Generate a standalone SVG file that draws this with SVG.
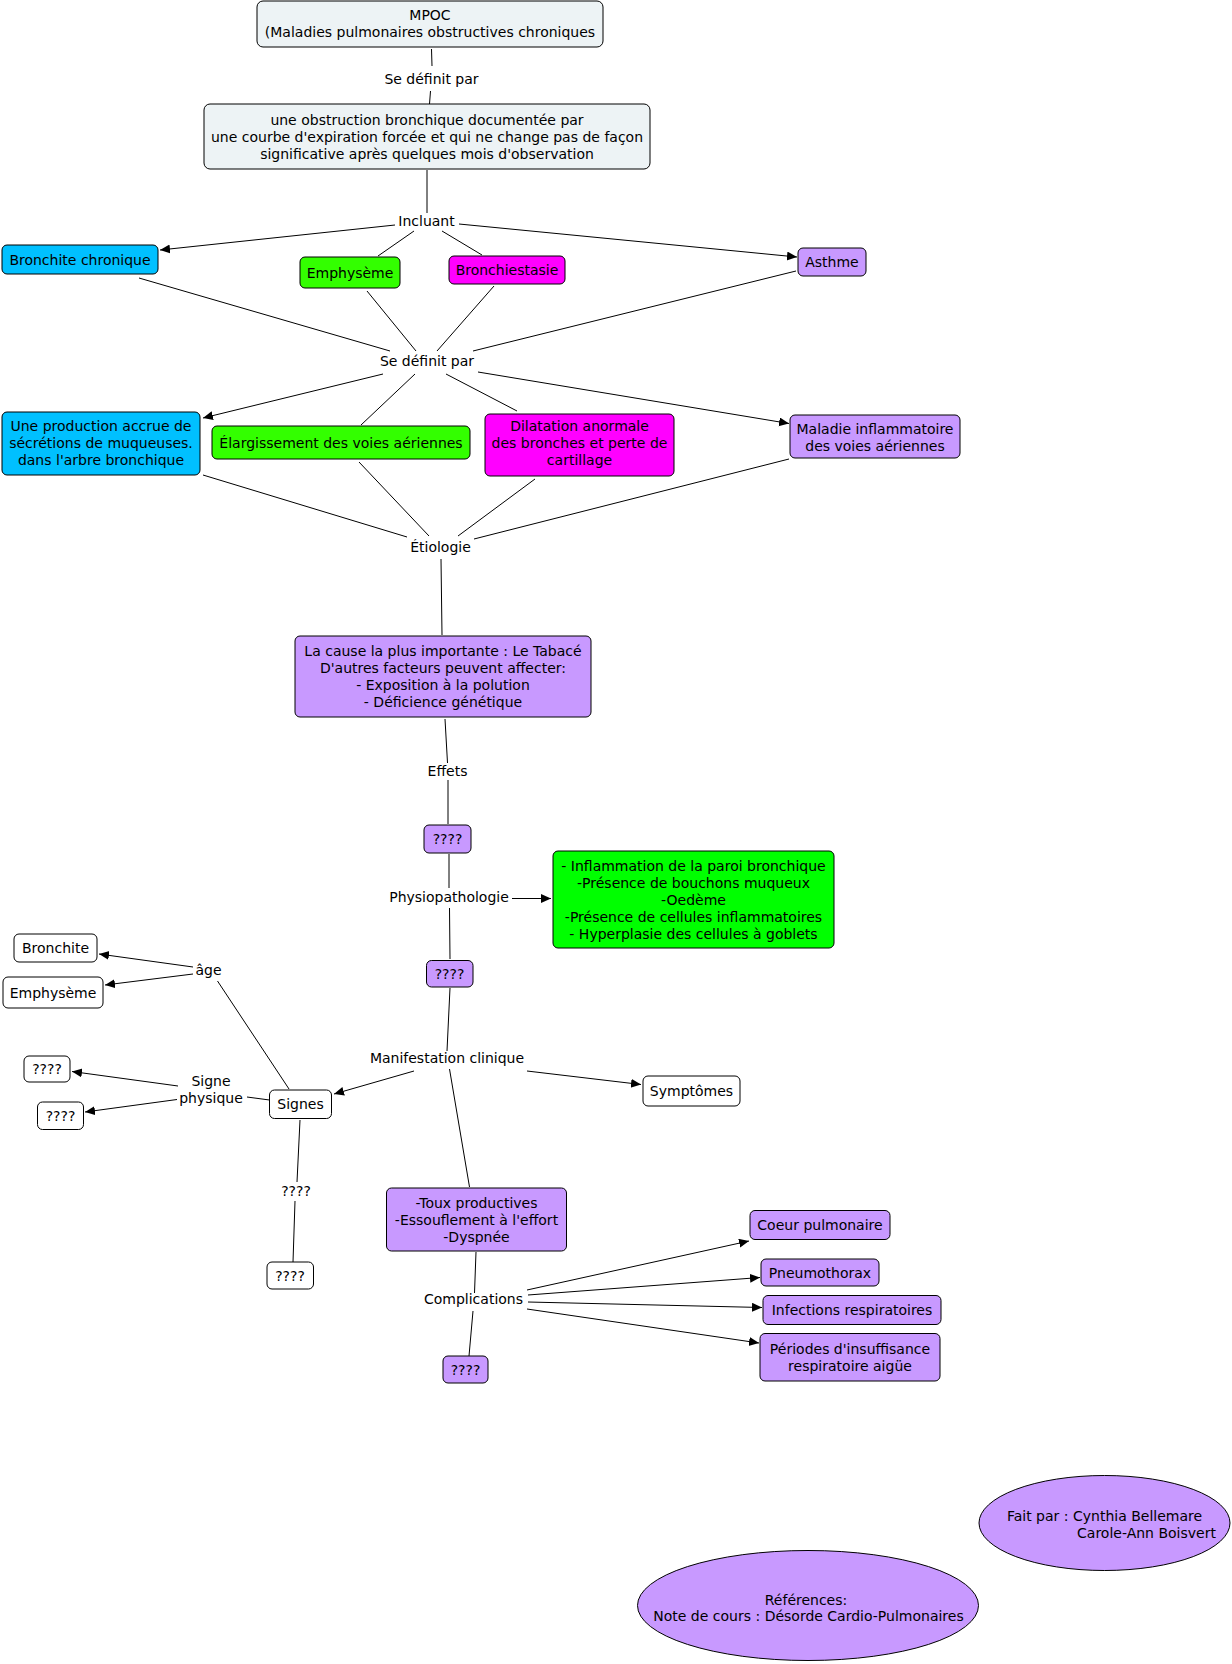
<svg xmlns="http://www.w3.org/2000/svg" width="1232" height="1664" viewBox="0 0 1232 1664">
<defs>
<marker id="arr" markerUnits="userSpaceOnUse" markerWidth="11" markerHeight="10" refX="10" refY="4.5" orient="auto">
<path d="M0,0 L10,4.5 L0,9 z" fill="#000"/>
</marker>
<style>
text{font-family:"DejaVu Sans",Verdana,"Liberation Sans",sans-serif;font-size:14px;fill:#000;text-anchor:middle}
.n{stroke:#000;stroke-width:1}
.grey{fill:#EDF3F5}.blue{fill:#00C0FF}.lg{fill:#33FF00}.g{fill:#00FF00}.mag{fill:#FF00FF}.lav{fill:#C899FF}.wh{fill:#fff}
.c line{stroke:#000;stroke-width:1;fill:none}
.c line.a{marker-end:url(#arr)}
</style>
</defs>
<rect width="1232" height="1664" fill="#fff"/>

<g class="c" id="connectors">
<line x1="431.5" y1="49" x2="432" y2="66"/>
<line x1="430.5" y1="91" x2="429.5" y2="104"/>
<line x1="427" y1="170" x2="427" y2="213"/>
<line class="a" x1="395" y1="225" x2="160" y2="250"/>
<line class="a" x1="459" y1="224" x2="797" y2="257"/>
<line x1="414" y1="231" x2="378" y2="256"/>
<line x1="442" y1="231" x2="482" y2="255"/>
<line x1="139" y1="278" x2="390" y2="351"/>
<line x1="367" y1="291" x2="416" y2="351"/>
<line x1="494" y1="286" x2="437" y2="351"/>
<line x1="796" y1="271" x2="473" y2="351"/>
<line class="a" x1="383" y1="374" x2="203" y2="418"/>
<line x1="415" y1="374" x2="361" y2="425"/>
<line x1="446" y1="374" x2="517" y2="411"/>
<line class="a" x1="478" y1="372" x2="789" y2="423.5"/>
<line x1="203" y1="475" x2="407" y2="537"/>
<line x1="359" y1="462" x2="429" y2="536"/>
<line x1="535" y1="479" x2="458" y2="536"/>
<line x1="789" y1="459" x2="474" y2="539"/>
<line x1="441" y1="559" x2="442" y2="635"/>
<line x1="445" y1="719" x2="447.5" y2="763"/>
<line x1="448" y1="780" x2="448" y2="824"/>
<line x1="449" y1="854" x2="449" y2="888"/>
<line class="a" x1="512" y1="898.5" x2="551" y2="898.5"/>
<line x1="449.5" y1="908" x2="450" y2="959"/>
<line x1="450" y1="988" x2="447" y2="1051"/>
<line class="a" x1="414" y1="1071" x2="334" y2="1094"/>
<line class="a" x1="527" y1="1071" x2="641" y2="1084.5"/>
<line x1="449.5" y1="1069" x2="469.5" y2="1187"/>
<line x1="289" y1="1089" x2="217.5" y2="981"/>
<line class="a" x1="193" y1="967" x2="99" y2="954"/>
<line class="a" x1="193" y1="974" x2="105" y2="985"/>
<line x1="269.5" y1="1100" x2="247" y2="1097"/>
<line class="a" x1="178" y1="1086" x2="72" y2="1071.5"/>
<line class="a" x1="177" y1="1099.5" x2="85" y2="1112"/>
<line x1="300" y1="1120" x2="297" y2="1182"/>
<line x1="295" y1="1201" x2="293" y2="1262"/>
<line x1="476" y1="1252" x2="474.5" y2="1293"/>
<line x1="473" y1="1311" x2="469" y2="1356"/>
<line class="a" x1="527" y1="1290" x2="749" y2="1241"/>
<line class="a" x1="528" y1="1295" x2="760" y2="1277.5"/>
<line class="a" x1="528" y1="1302" x2="762" y2="1307.5"/>
<line class="a" x1="527" y1="1309" x2="759" y2="1343"/>
</g>

<g id="link-labels">
<text x="431.5" y="83.5">Se définit par</text>
<text x="426.5" y="226">Incluant</text>
<text x="427" y="366">Se définit par</text>
<text x="440.5" y="552">Étiologie</text>
<text x="447.5" y="776">Effets</text>
<text x="449" y="902">Physiopathologie</text>
<text x="447" y="1063">Manifestation clinique</text>
<text x="208.5" y="975">âge</text>
<text x="211" y="1086">Signe</text>
<text x="211" y="1103">physique</text>
<text x="296" y="1196">????</text>
<text x="473.5" y="1304">Complications</text>
</g>

<g id="n-mpoc"><rect class="n grey" x="257" y="1" width="346" height="46" rx="6"/>
<text x="430" y="19.5">MPOC</text><text x="430" y="36.5">(Maladies pulmonaires obstructives chroniques</text></g>

<g id="n-obstruction"><rect class="n grey" x="204" y="104" width="446" height="65" rx="6"/>
<text x="427" y="124.5">une obstruction bronchique documentée par</text>
<text x="427" y="141.5">une courbe d'expiration forcée et qui ne change pas de façon</text>
<text x="427" y="158.5">significative après quelques mois d'observation</text></g>

<g id="n-bronchite-chronique"><rect class="n blue" x="2" y="245" width="156" height="29" rx="5"/>
<text x="80" y="264.5">Bronchite chronique</text></g>
<g id="n-emphyseme"><rect class="n lg" x="300" y="257" width="100" height="31" rx="5"/>
<text x="350" y="277.5">Emphysème</text></g>
<g id="n-bronchiestasie"><rect class="n mag" x="449" y="256" width="116" height="28" rx="5"/>
<text x="507" y="275">Bronchiestasie</text></g>
<g id="n-asthme"><rect class="n lav" x="798" y="248" width="68" height="28" rx="5"/>
<text x="832" y="267">Asthme</text></g>

<g id="n-production"><rect class="n blue" x="2" y="412" width="198" height="63" rx="5"/>
<text x="101" y="430.5">Une production accrue de</text>
<text x="101" y="447.5">sécrétions de muqueuses.</text>
<text x="101" y="464.5">dans l'arbre bronchique</text></g>
<g id="n-elargissement"><rect class="n lg" x="212" y="426" width="258" height="33" rx="5"/>
<text x="341" y="447.5">Élargissement des voies aériennes</text></g>
<g id="n-dilatation"><rect class="n mag" x="485" y="414" width="189" height="62" rx="5"/>
<text x="579.5" y="431">Dilatation anormale</text>
<text x="579.5" y="448">des bronches et perte de</text>
<text x="579.5" y="465">cartillage</text></g>
<g id="n-maladie"><rect class="n lav" x="790" y="415" width="170" height="43" rx="5"/>
<text x="875" y="433.5">Maladie inflammatoire</text>
<text x="875" y="450.5">des voies aériennes</text></g>

<g id="n-cause"><rect class="n lav" x="295" y="636" width="296" height="81" rx="5"/>
<text x="443" y="656">La cause la plus importante : Le Tabacé</text>
<text x="443" y="673">D'autres facteurs peuvent affecter:</text>
<text x="443" y="690">- Exposition à la polution</text>
<text x="443" y="707">- Déficience génétique</text></g>

<g id="n-q1"><rect class="n lav" x="424" y="825" width="47" height="28" rx="5"/>
<text x="447.5" y="844">????</text></g>
<g id="n-physio"><rect class="n g" x="553" y="851" width="281" height="97" rx="5"/>
<text x="693.5" y="870.5">- Inflammation de la paroi bronchique</text>
<text x="693.5" y="887.5">-Présence de bouchons muqueux</text>
<text x="693.5" y="904.5">-Oedème</text>
<text x="693.5" y="921.5">-Présence de cellules inflammatoires</text>
<text x="693.5" y="938.5">- Hyperplasie des cellules à goblets</text></g>
<g id="n-q2"><rect class="n lav" x="426.5" y="960.5" width="46.5" height="26.5" rx="5"/>
<text x="449.5" y="978.5">????</text></g>

<g id="n-symptomes"><rect class="n wh" x="643" y="1076" width="97" height="30" rx="5"/>
<text x="691.5" y="1096">Symptômes</text></g>
<g id="n-signes"><rect class="n wh" x="269.5" y="1090" width="62" height="28.5" rx="5"/>
<text x="300.5" y="1109">Signes</text></g>
<g id="n-bronchite"><rect class="n wh" x="14" y="934" width="83" height="28" rx="5"/>
<text x="55.5" y="953">Bronchite</text></g>
<g id="n-emphyseme2"><rect class="n wh" x="3" y="977" width="100" height="31" rx="5"/>
<text x="53" y="997.5">Emphysème</text></g>
<g id="n-qa"><rect class="n wh" x="24" y="1056" width="46" height="26" rx="5"/>
<text x="47" y="1074">????</text></g>
<g id="n-qb"><rect class="n wh" x="37.5" y="1102" width="46" height="27.5" rx="5"/>
<text x="60.5" y="1121">????</text></g>
<g id="n-qc"><rect class="n wh" x="267" y="1262" width="46.5" height="27" rx="5"/>
<text x="290" y="1280.5">????</text></g>

<g id="n-toux"><rect class="n lav" x="386.5" y="1188" width="180" height="63" rx="5"/>
<text x="476.5" y="1207.5">-Toux productives</text>
<text x="476.5" y="1224.5">-Essouflement à l'effort</text>
<text x="476.5" y="1241.5">-Dyspnée</text></g>
<g id="n-qd"><rect class="n lav" x="443" y="1356" width="45" height="27" rx="5"/>
<text x="465.5" y="1374.5">????</text></g>

<g id="n-coeur"><rect class="n lav" x="750" y="1210.5" width="140" height="29" rx="5"/>
<text x="820" y="1230">Coeur pulmonaire</text></g>
<g id="n-pneumo"><rect class="n lav" x="761" y="1259" width="118" height="27" rx="5"/>
<text x="820" y="1277.5">Pneumothorax</text></g>
<g id="n-infections"><rect class="n lav" x="763" y="1295.5" width="178" height="29" rx="5"/>
<text x="852" y="1315">Infections respiratoires</text></g>
<g id="n-periodes"><rect class="n lav" x="760" y="1333.5" width="180" height="47.5" rx="5"/>
<text x="850" y="1353.5">Périodes d'insuffisance</text>
<text x="850" y="1370.5">respiratoire aigüe</text></g>

<g id="n-fait-par"><ellipse class="n lav" cx="1104.5" cy="1523" rx="125.5" ry="47.5"/>
<text x="1104.5" y="1521">Fait par : Cynthia Bellemare</text>
<text x="1146.5" y="1538">Carole-Ann Boisvert</text></g>
<g id="n-references"><ellipse class="n lav" cx="808" cy="1605.5" rx="170.5" ry="55"/>
<text x="806" y="1604.5">Références:</text>
<text x="808.5" y="1621">Note de cours : Désorde Cardio-Pulmonaires</text></g>
</svg>
